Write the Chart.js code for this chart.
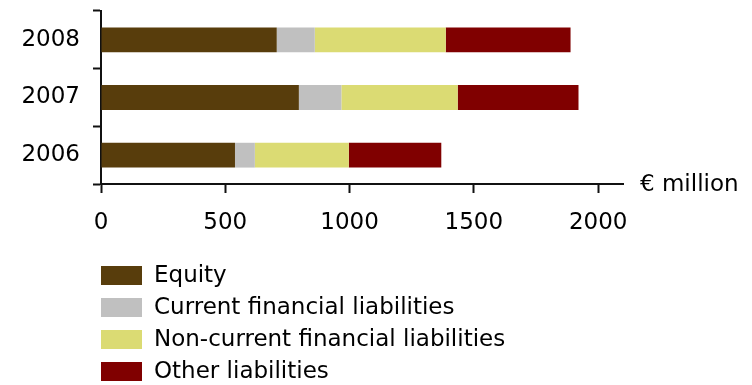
<!DOCTYPE html>
<html>
<head>
<meta charset="utf-8">
<script src="https://cdn.jsdelivr.net/npm/chart.js@4.4.1/dist/chart.umd.min.js"></script>
<style>
  html, body { margin: 0; padding: 0; background: #fff; }
  #wrap { width: 752px; height: 385px; }
</style>
</head>
<body>
<div id="wrap"><canvas id="myChart" width="752" height="385"></canvas></div>
<script>
// balance sheet structure, € million
var years = ["2008", "2007", "2006"];
var equity = [707, 796, 539];
var currentFin = [153, 171, 80];
var nonCurrentFin = [527, 468, 378];
var otherLiab = [502, 486, 372];
var xTicks = [0, 500, 1000, 1500, 2000];
var unitLabel = "€ million";

var FONT = "'DejaVu Sans', Arial, sans-serif";

// vertical legend below the plot + unit label at the end of the x axis
var extras = {
  id: "extras",
  afterDraw: function (chart) {
    var c = chart.ctx;
    var area = chart.chartArea;
    c.save();
    c.font = "23px " + FONT;
    c.fillStyle = "#000";
    c.textBaseline = "middle";
    c.textAlign = "left";
    c.fillText(unitLabel, area.right + 17, area.bottom + 1);

    chart.data.datasets.forEach(function (ds, i) {
      var y = 266 + i * 32;
      c.fillStyle = ds.backgroundColor;
      c.fillRect(101, y, 41, 19);
      c.fillStyle = "#000";
      c.fillText(ds.label, 154, y + 10);
    });
    c.restore();
  }
};

var ctx = document.getElementById("myChart").getContext("2d");
var myChart = new Chart(ctx, {
  type: "bar",
  plugins: [extras],
  data: {
    labels: years,
    datasets: [
      { label: "Equity", data: equity, backgroundColor: "rgb(88, 61, 12)" },
      { label: "Current financial liabilities", data: currentFin, backgroundColor: "rgb(192, 192, 192)" },
      { label: "Non-current financial liabilities", data: nonCurrentFin, backgroundColor: "rgb(219, 219, 115)" },
      { label: "Other liabilities", data: otherLiab, backgroundColor: "rgb(128, 0, 0)" }
    ]
  },
  options: {
    indexAxis: "y",
    responsive: false,
    animation: false,
    barPercentage: 0.43,
    categoryPercentage: 1,
    layout: {
      padding: { left: 0, right: 129, top: 11, bottom: 151 }
    },
    plugins: {
      legend: { display: false },
      tooltip: { enabled: false }
    },
    scales: {
      x: {
        stacked: true,
        min: 0,
        max: 2100,
        afterBuildTicks: function (scale) {
          scale.ticks = xTicks.map(function (v) { return { value: v }; });
        },
        afterFit: function (scale) {
          scale.height = 50;
          scale.paddingLeft = 0;
          scale.paddingRight = 0;
        },
        border: { display: true, color: "#111", width: 2 },
        grid: {
          drawOnChartArea: false,
          drawTicks: true,
          tickLength: 9,
          tickColor: "#111",
          tickWidth: 2
        },
        ticks: {
          color: "#000",
          padding: 16,
          maxRotation: 0,
          font: { family: FONT, size: 23 },
          callback: function (v) { return String(v); }
        }
      },
      y: {
        stacked: true,
        afterFit: function (scale) {
          scale.width = 101;
          scale.paddingTop = 0;
          scale.paddingBottom = 0;
        },
        border: { display: true, color: "#111", width: 2 },
        grid: {
          offset: true,
          drawOnChartArea: false,
          drawTicks: true,
          tickLength: 8,
          tickColor: "#111",
          tickWidth: 2
        },
        ticks: {
          color: "#000",
          padding: 13,
          font: { family: FONT, size: 23 }
        }
      }
    }
  }
});
</script>
</body>
</html>
